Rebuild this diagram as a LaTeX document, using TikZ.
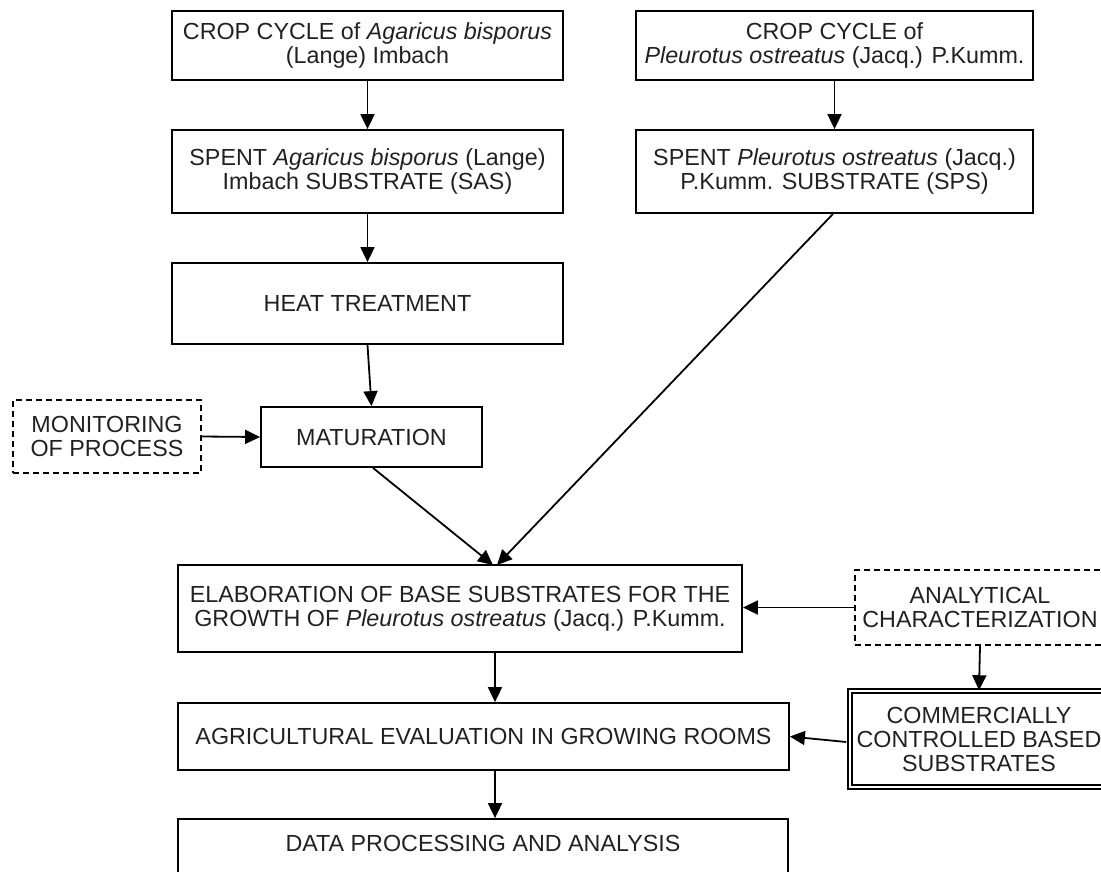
\documentclass[tikz,border=0pt]{standalone}
\usepackage{fontspec}
\setmainfont{Liberation Sans}
\usetikzlibrary{arrows.meta,calc}
\definecolor{ink}{gray}{0.13}
\begin{document}
\begin{tikzpicture}[x=1pt,y=-1pt,
  every node/.style={font=\fontsize{23.3}{24}\selectfont, text=ink},
  box/.style={draw, line width=1.8pt, inner sep=0pt, align=center},
  dbox/.style={box, line width=1.6pt, dash pattern=on 6pt off 4pt},
  twobox/.style={draw, line width=1.5pt, double=white, double distance=2.5pt, inner sep=0pt, align=center},
  arr/.style={line width=1.8pt, -{Triangle[length=15pt,width=14pt]}}
]
\useasboundingbox (0,0) rectangle (1101,871);
\clip (0,0) rectangle (1101,871);

\node[box, minimum width=391pt, minimum height=69pt] (c1) at (367.5,45.5)
  {CROP CYCLE of \textit{Agaricus bisporus}\\(Lange) Imbach};
\node[box, minimum width=397pt, minimum height=69pt] (c2) at (834.5,45.5)
  {CROP CYCLE of\\\textit{Pleurotus ostreatus} (Jacq.) P.Kumm.};
\node[box, minimum width=391pt, minimum height=83pt] (sas) at (367.5,171.5)
  {SPENT \textit{Agaricus bisporus} (Lange)\\Imbach SUBSTRATE (SAS)};
\node[box, minimum width=397pt, minimum height=83pt] (sps) at (834.5,171.5)
  {SPENT \textit{Pleurotus ostreatus} (Jacq.)\\P.Kumm. SUBSTRATE (SPS)};
\node[box, minimum width=391pt, minimum height=81pt] (heat) at (367.5,303.5)
  {HEAT TREATMENT};
\node[dbox, minimum width=188pt, minimum height=73pt] (mon) at (107,436.5)
  {MONITORING\\OF PROCESS};
\node[box, minimum width=221pt, minimum height=60pt] (mat) at (371.5,437)
  {MATURATION};
\node[box, minimum width=564pt, minimum height=87pt] (elab) at (460,608.5)
  {ELABORATION OF BASE SUBSTRATES FOR THE\\GROWTH OF \textit{Pleurotus ostreatus} (Jacq.) P.Kumm.};
\node[dbox, minimum width=250pt, minimum height=75pt] (ana) at (980,607.5)
  {ANALYTICAL\\CHARACTERIZATION};
\node[twobox, minimum width=258pt, minimum height=96pt] (com) at (979,739)
  {COMMERCIALLY\\CONTROLLED BASED\\SUBSTRATES};
\node[box, minimum width=611pt, minimum height=67pt] (agri) at (483.5,736.5)
  {AGRICULTURAL EVALUATION IN GROWING ROOMS};
\node[box, minimum width=610pt, minimum height=74pt] (data) at (483,856) {};
\node (datat) at (483,843) {DATA PROCESSING AND ANALYSIS};

\coordinate (meet) at (495,565);

\draw[arr] (c1.south) -- (sas.north);
\draw[arr] (c2.south) -- (sps.north);
\draw[arr] (sas.south) -- (heat.north);
\draw[arr] (heat.south) -- (mat.north);
\draw[arr] (mon.east) -- (mat.west);
\draw[arr] ($(mat.south)+(1.5,0)$) -- ($(meet)+(-2,0)$);
\draw[arr] ($(sps.south)+(-1.5,0)$) -- ($(meet)+(2,0)$);
\draw[arr] (ana.west) -- (elab.east |- ana.west);
\draw[arr] (ana.south) -- (com.north);
\draw[arr] ($(com.west)+(-3,3)$) -- (agri.east);
\draw[arr] (elab.south -| meet) -- (agri.north -| meet);
\draw[arr] (agri.south -| meet) -- (data.north -| meet);
\end{tikzpicture}
\end{document}
